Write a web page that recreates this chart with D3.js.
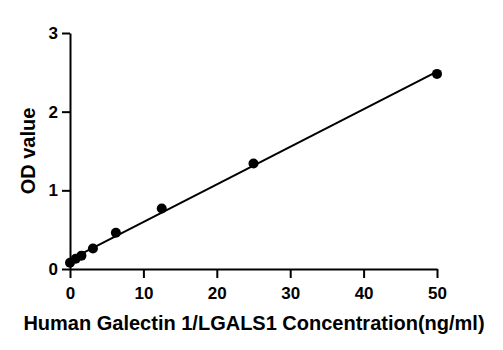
<!DOCTYPE html>
<html>
<head>
<meta charset="utf-8">
<script src="https://cdn.jsdelivr.net/npm/d3@7"></script>
<style>
  html, body { margin: 0; padding: 0; background: #fff; }
  text { font-family: "Liberation Sans", Arial, sans-serif; font-weight: bold; fill: #000; }
</style>
</head>
<body>
<svg id="chart" width="503" height="350"></svg>
<script>
// Standard curve: concentration (ng/ml) vs OD
const concentration = [0, 0.78, 1.56, 3.125, 6.25, 12.5, 25, 50];
const odValue = [0.08, 0.13, 0.17, 0.26, 0.46, 0.77, 1.34, 2.48];
const xTicks = [0, 10, 20, 30, 40, 50];
const yTicks = [0, 1, 2, 3];

const svg = d3.select("#chart");
const margin = { left: 70, top: 33, right: 66, bottom: 81 };
const W = 503, H = 350;

const x = d3.scaleLinear().domain([0, 50]).range([margin.left, W - margin.right]);
const y = d3.scaleLinear().domain([0, 3]).range([H - margin.bottom, margin.top]);

// least-squares line through the standards
const mx = d3.mean(concentration), my = d3.mean(odValue);
const slope = d3.sum(concentration, (c, i) => (c - mx) * (odValue[i] - my)) /
              d3.sum(concentration, c => (c - mx) * (c - mx));
const intercept = my - slope * mx;

const fmt = d3.format("d");
const xAxis = svg.append("g")
  .attr("transform", `translate(0,${y(0)})`)
  .call(d3.axisBottom(x).tickValues(xTicks).tickFormat(fmt).tickSize(9).tickPadding(9).tickSizeOuter(0));
const yAxis = svg.append("g")
  .attr("transform", `translate(${x(0)},0)`)
  .call(d3.axisLeft(y).tickValues(yTicks).tickFormat(fmt).tickSize(8).tickPadding(4).tickSizeOuter(0));

[xAxis, yAxis].forEach(g => {
  g.attr("font-size", null).attr("font-family", null);
  g.select(".domain").attr("stroke", "#000").attr("stroke-width", 2);
  g.selectAll(".tick line").attr("stroke", "#000").attr("stroke-width", 2);
  g.selectAll(".tick text").style("font-size", "17px").style("font-weight", "bold")
    .style("font-family", "'Liberation Sans', Arial, sans-serif").attr("fill", "#000");
});

svg.append("line")
  .attr("x1", x(0)).attr("y1", y(intercept))
  .attr("x2", x(50)).attr("y2", y(intercept + slope * 50))
  .attr("stroke", "#000").attr("stroke-width", 2);

svg.append("g").selectAll("circle")
  .data(concentration)
  .join("circle")
  .attr("cx", d => x(d))
  .attr("cy", (d, i) => y(odValue[i]))
  .attr("r", 5)
  .attr("fill", "#000");

svg.append("text")
  .attr("x", 254)
  .attr("y", 330)
  .attr("text-anchor", "middle")
  .style("font-size", "20px")
  .text("Human Galectin 1/LGALS1 Concentration(ng/ml)");

svg.append("text")
  .attr("transform", `translate(35,151) rotate(-90)`)
  .attr("text-anchor", "middle")
  .style("font-size", "20px")
  .text("OD value");
</script>
</body>
</html>
